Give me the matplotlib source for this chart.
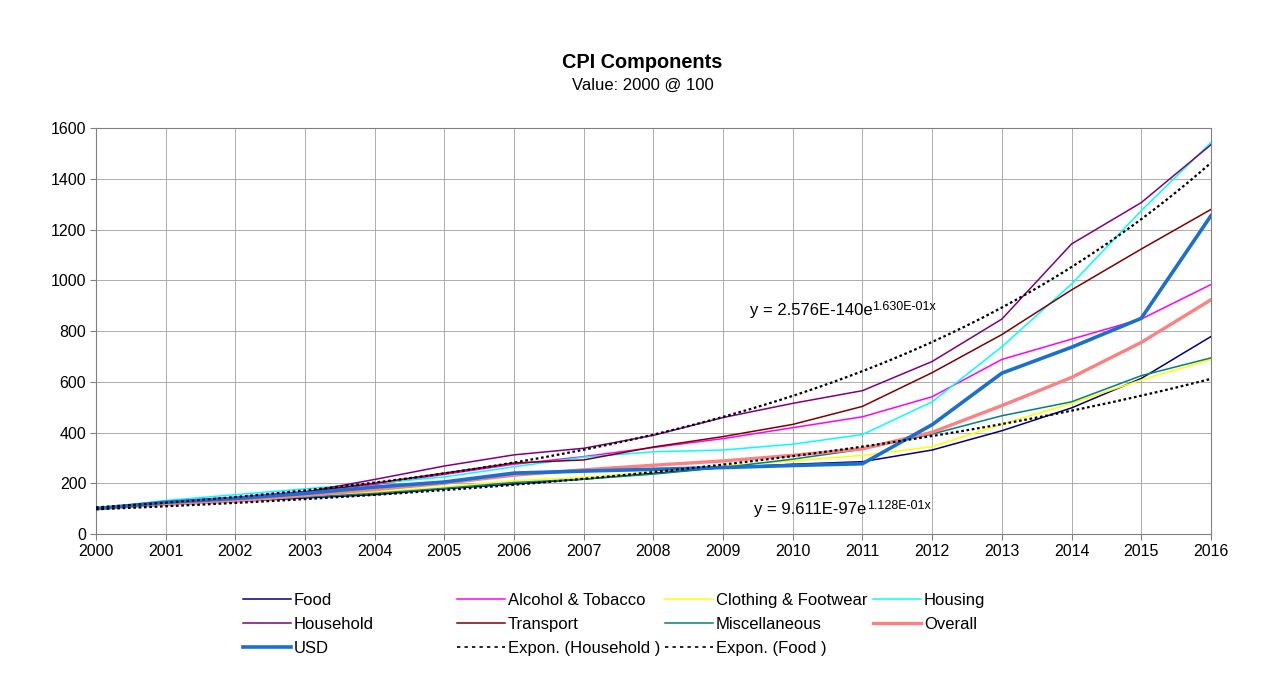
import numpy as np
import matplotlib
matplotlib.use("Agg")
import matplotlib.pyplot as plt
from matplotlib.lines import Line2D

plt.rcParams['font.family'] = ['Liberation Sans', 'DejaVu Sans']

# data (index, 2000 = 100)
years = list(range(2000, 2017))
food = [100, 115, 128, 142, 155, 178, 197, 216, 240, 262, 275, 285, 331, 407, 497, 613, 778]
alcohol = [100, 128, 145, 168, 195, 235, 275, 305, 341, 376, 419, 462, 541, 688, 768, 847, 983]
clothing = [100, 115, 130, 148, 165, 185, 210, 223, 245, 269, 288, 310, 344, 433, 515, 607, 688]
housing = [100, 132, 155, 178, 200, 225, 265, 303, 324, 331, 354, 392, 521, 738, 985, 1274, 1543]
household = [100, 125, 140, 165, 215, 268, 312, 338, 389, 459, 515, 565, 680, 847, 1143, 1306, 1534]
transport = [100, 122, 140, 165, 200, 240, 280, 292, 343, 384, 432, 503, 636, 786, 962, 1123, 1279]
misc = [100, 115, 130, 145, 160, 180, 203, 216, 236, 262, 295, 334, 394, 466, 521, 624, 694]
overall = [100, 118, 130, 152, 175, 200, 232, 253, 271, 288, 310, 336, 401, 506, 617, 755, 923]
usd = [100, 125, 140, 160, 185, 205, 240, 248, 255, 262, 270, 277, 431, 634, 736, 850, 1254]

series = [
    ("Food", food, "#000080", 1.1),
    ("Alcohol & Tobacco", alcohol, "#FF00FF", 1.1),
    ("Clothing & Footwear", clothing, "#FFFF00", 1.1),
    ("Housing", housing, "#00FFFF", 1.1),
    ("Household", household, "#800080", 1.1),
    ("Transport", transport, "#800000", 1.1),
    ("Miscellaneous", misc, "#008080", 1.1),
    ("Overall", overall, "#FF8080", 2.4),
    ("USD", usd, "#1A6FD0", 2.6),
]
dotted = (0, (1.2, 1.2))

fig = plt.figure(figsize=(12.8, 6.8), dpi=100)
ax = fig.add_axes([0.075, 0.2147, 0.871, 0.597])

styles = {}
for name, vals, col, lw in series:
    ax.plot(years, vals, color=col, lw=lw, zorder=3)
    styles[name] = (col, lw, "-")

# exponential trend lines fitted to Household and Food
xs = np.linspace(2000, 2016, 200)
for name, vals in [("Household", household), ("Food", food)]:
    b, a = np.polyfit(years, np.log(vals), 1)
    ax.plot(xs, np.exp(a + b * xs), color="black", lw=1.6, linestyle=dotted, zorder=4)
    styles["Expon. (%s )" % name] = ("black", 1.2, (0, (2, 2.5)))

ax.set_xlim(2000, 2016)
ax.set_ylim(0, 1600)
ax.set_xticks(years)
ax.set_yticks(range(0, 1601, 200))
ax.tick_params(labelsize=11.5, length=4, color="#808080", pad=3)
ax.grid(True, color="#A0A0A0", lw=0.6)
ax.set_axisbelow(True)
for s in ax.spines.values():
    s.set_color("#808080")

# trend equations, exponent drawn as a small raised text
fig.canvas.draw()
rend = fig.canvas.get_renderer()
for xe, ye, base, expo in [(2009.38, 879, "y = 2.576E-140e", "1.630E-01x"),
                           (2009.45, 95, "y = 9.611E-97e", "1.128E-01x")]:
    t = ax.text(xe, ye, base, fontsize=12, va="center", zorder=5)
    bb = t.get_window_extent(rend)
    ax.annotate(expo, xy=(bb.x1, bb.y1), xycoords="figure pixels",
                xytext=(0, -4), textcoords="offset pixels",
                fontsize=9, va="center", ha="left", zorder=5)

fig.text(0.502, 0.908, "CPI Components", ha="center", va="center", fontsize=14.3, fontweight="bold")
fig.text(0.502, 0.875, "Value: 2000 @ 100", ha="center", va="center", fontsize=12)

# legend laid out like the original (4 columns, row-major)
order = ["Food", "Alcohol & Tobacco", "Clothing & Footwear", "Housing",
         "Household", "Transport", "Miscellaneous", "Overall",
         "USD", "Expon. (Household )", "Expon. (Food )"]
col_x = [243, 457, 665, 873]
row_y = [599, 623, 647]
W, H = 1280, 680
for i, name in enumerate(order):
    col, lw, ls = styles[name]
    x0 = col_x[i % 4]
    fy = 1 - row_y[i // 4] / H
    fig.add_artist(Line2D([x0 / W, (x0 + 48) / W], [fy, fy], color=col, lw=lw,
                          linestyle=ls, transform=fig.transFigure))
    fig.text((x0 + 51) / W, fy, name, fontsize=12, va="center_baseline", ha="left")

fig.savefig("out.png", dpi=100)
